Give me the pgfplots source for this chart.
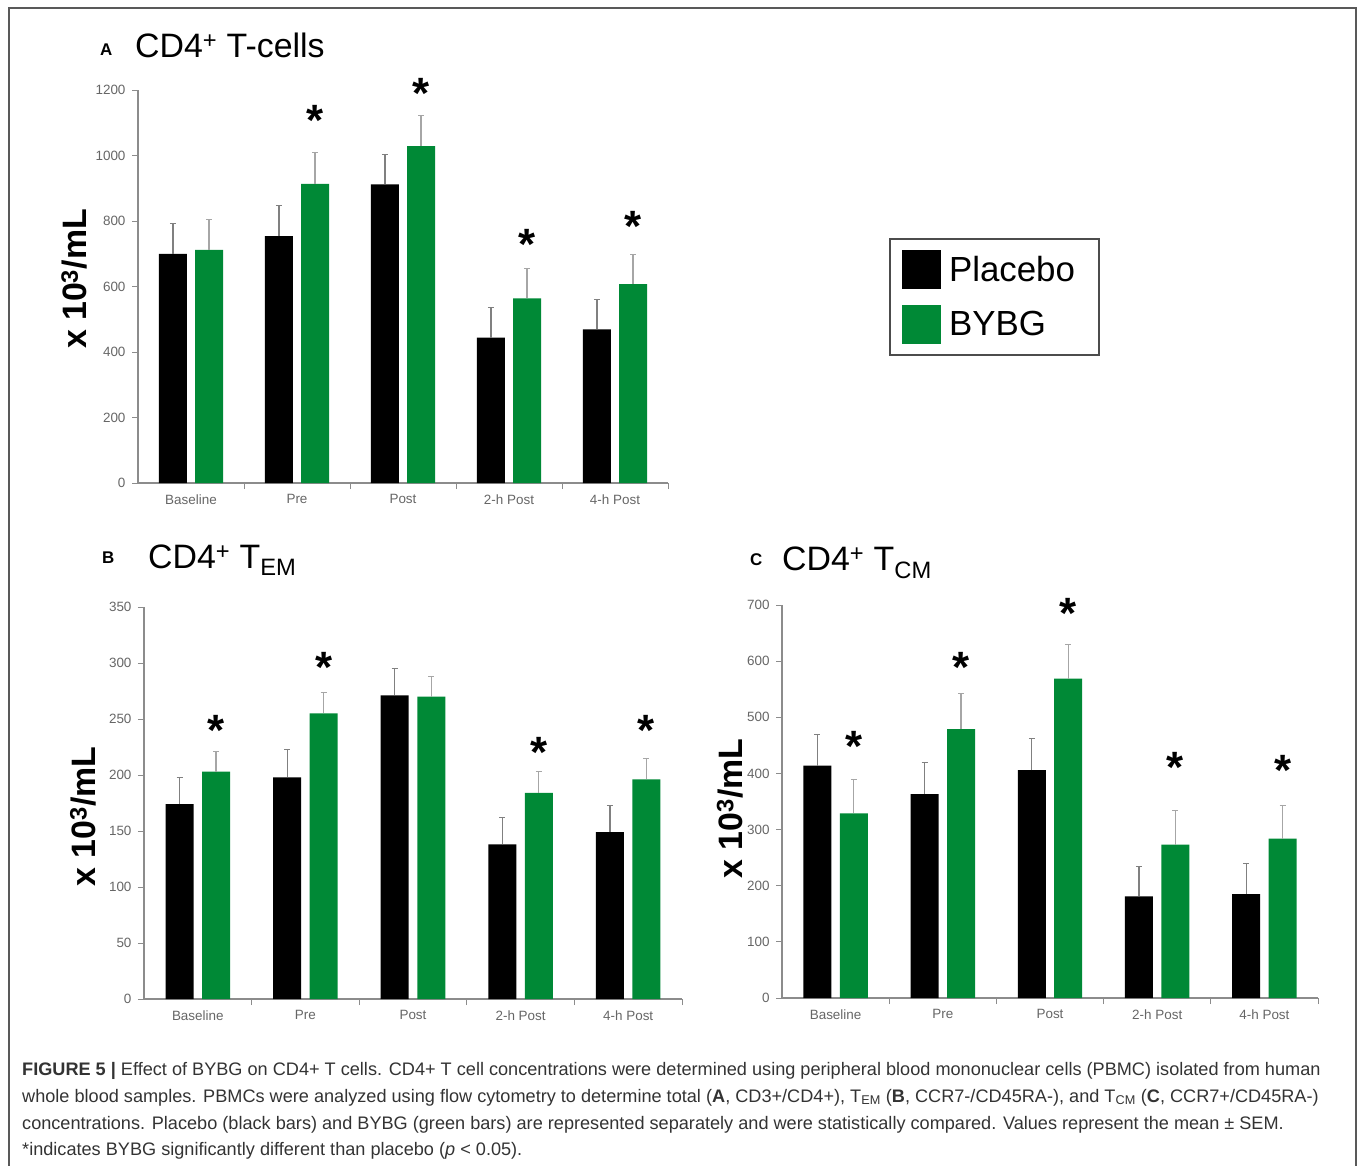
\documentclass[border=0pt]{standalone}
\usepackage{fontspec}
\setmainfont{Liberation Sans}
\usepackage{pgfplots}
\pgfplotsset{compat=1.18}

\definecolor{bybg}{RGB}{0,137,54}

\newcommand\tickfont{\fontsize{13.5}{14}\selectfont}
\newcommand\labfont{\bfseries\fontsize{34}{34}\selectfont}
\newcommand\titfont{\fontsize{34}{34}\selectfont}
\newcommand\letfont{\bfseries\fontsize{17}{17}\selectfont}
\newcommand\legfont{\fontsize{35}{35}\selectfont}
\newcommand\asty{\bfseries\fontsize{44}{44}\selectfont}
\newcommand\capfont{\fontsize{18.2}{20}\selectfont}

% bars sit at category -0.17 (placebo) and +0.17 (BYBG)
\pgfplotsset{
  panel/.style={
    scale only axis, anchor=south west, clip=false,
    axis x line*=bottom, axis y line*=left,
    axis line style={black!45, line width=1.2bp},
    xmin=-0.5, xmax=4.5, ymin=0,
    xtick={0,...,4},
    xticklabels={Baseline,Pre,Post,2-h Post,4-h Post},
    minor xtick={0.5,1.5,2.5,3.5,4.5},
    major x tick style={draw=none},
    tick align=outside,
    major tick length=6bp, minor tick length=6bp,
    tick style={black!45, line width=1bp},
    ticklabel style={font=\tickfont, text=black!60},
    yticklabel style={xshift=-3bp},
    xticklabel style={yshift=-2bp},
    /pgf/number format/assume math mode=true,
    /pgf/number format/1000 sep={},
    ylabel={x 10\textsuperscript{3}/mL},
    ylabel style={font=\labfont},
  },
  placebo/.style={ybar, bar width=28bp, bar shift=0bp, fill=black, draw=none,
    error bars/y dir=plus, error bars/y explicit,
    error bars/error bar style={black!50, line width=1.2bp},
    error bars/error mark options={rotate=90, black!50, mark size=3bp, line width=1bp}},
  bybg/.style={ybar, bar width=28bp, bar shift=0bp, fill=bybg, draw=none,
    error bars/y dir=plus, error bars/y explicit,
    error bars/error bar style={black!35, line width=1.2bp},
    error bars/error mark options={rotate=90, black!35, mark size=3bp, line width=1bp}},
  star/.style={only marks, mark=text, text mark={\asty *}, text mark as node=true,
    text mark style={anchor=base, yshift=-19bp, inner sep=0pt}},
}

\begin{document}
\begin{tikzpicture}
\path[use as bounding box] (0bp,0bp) rectangle (1360bp,-1166bp);
\draw[black!65, line width=2bp] (9bp,-1170bp) -- (9bp,-8bp) -- (1356bp,-8bp) -- (1356bp,-1170bp);

% panel A
\node[anchor=base west, inner sep=0pt] at (100bp,-55bp) {\letfont A};
\node[anchor=base west, inner sep=0pt] at (135bp,-57bp) {\titfont CD4\textsuperscript{+} T-cells};
\begin{axis}[panel, at={(138bp,-483bp)}, width=530bp, height=393bp,
  ymax=1200, ytick={0,200,...,1200},
  ylabel style={at={(axis description cs:-0.120,0.519)}, anchor=center}]
\addplot[placebo] coordinates {(-0.17,700) +- (0,93) (0.83,754) +- (0,92) (1.83,912) +- (0,92) (2.83,444) +- (0,93) (3.83,469) +- (0,90)};
\addplot[bybg] coordinates {(0.17,712) +- (0,94) (1.17,913) +- (0,95) (2.17,1029) +- (0,94) (3.17,564) +- (0,92) (4.17,607) +- (0,92)};
\addplot[star] coordinates {(1.17,1118) (2.17,1202) (3.17,740) (4.17,795)};
\end{axis}

% legend
\begin{axis}[hide axis, scale only axis, width=10bp, height=10bp,
  xmin=0, xmax=1, ymin=0, ymax=1, at={(889bp,-238bp)}, anchor=north west,
  legend style={at={(0,1)}, anchor=north west, draw=black!70, line width=2bp,
    fill=white, inner xsep=12bp, inner ysep=11bp, row sep=16bp, column sep=8bp,
    font=\legfont, nodes={inner sep=0pt}},
  legend cell align=left]
\addlegendimage{legend image code/.code={\fill[black] (0bp,-18.5bp) rectangle (37bp,18.5bp);}}
\addlegendentry{Placebo\hspace*{12bp}}
\addlegendimage{legend image code/.code={\fill[bybg] (0bp,-18.5bp) rectangle (37bp,18.5bp);}}
\addlegendentry{BYBG}
\end{axis}

% panel B
\node[anchor=base west, inner sep=0pt] at (102bp,-563bp) {\letfont B};
\node[anchor=base west, inner sep=0pt] at (148bp,-568bp) {\titfont CD4\textsuperscript{+} T\textsubscript{EM}};
\begin{axis}[panel, at={(144bp,-999bp)}, width=538bp, height=392bp,
  ymax=350, ytick={0,50,...,350},
  ylabel style={at={(axis description cs:-0.113,0.466)}, anchor=center}]
\addplot[placebo] coordinates {(-0.17,174) +- (0,24) (0.83,198) +- (0,25) (1.83,271) +- (0,24) (2.83,138) +- (0,24) (3.83,149) +- (0,24)};
\addplot[bybg] coordinates {(0.17,203) +- (0,18) (1.17,255) +- (0,19) (2.17,270) +- (0,18) (3.17,184) +- (0,19) (4.17,196) +- (0,19)};
\addplot[star] coordinates {(0.17,243) (1.17,300) (3.17,224) (4.17,243)};
\end{axis}

% panel C
\node[anchor=base west, inner sep=0pt] at (750bp,-565bp) {\letfont C};
\node[anchor=base west, inner sep=0pt] at (782bp,-570bp) {\titfont CD4\textsuperscript{+} T\textsubscript{CM}};
\begin{axis}[panel, at={(782bp,-998bp)}, width=536bp, height=393bp,
  ymax=700, ytick={0,100,...,700},
  ylabel style={at={(axis description cs:-0.097,0.482)}, anchor=center}]
\addplot[placebo] coordinates {(-0.17,414) +- (0,55) (0.83,363) +- (0,56) (1.83,406) +- (0,56) (2.83,181) +- (0,53) (3.83,185) +- (0,54)};
\addplot[bybg] coordinates {(0.17,329) +- (0,61) (1.17,479) +- (0,63) (2.17,569) +- (0,61) (3.17,273) +- (0,61) (4.17,284) +- (0,59)};
\addplot[star] coordinates {(0.17,455) (1.17,596) (2.17,692) (3.17,417) (4.17,413)};
\end{axis}

% caption
\begin{scope}[every node/.style={anchor=base west, inner sep=0pt, text=black!80, font=\capfont}]
\node at (22bp,-1075bp) {\textbf{FIGURE 5 |} Effect of BYBG on CD4+ T cells. CD4+ T cell concentrations were determined using peripheral blood mononuclear cells (PBMC) isolated from human};
\node at (22bp,-1102bp) {whole blood samples. PBMCs were analyzed using flow cytometry to determine total (\textbf{A}, CD3+/CD4+), T\textsubscript{EM} (\textbf{B}, CCR7-/CD45RA-), and T\textsubscript{CM} (\textbf{C}, CCR7+/CD45RA-)};
\node at (22bp,-1129bp) {concentrations. Placebo (black bars) and BYBG (green bars) are represented separately and were statistically compared. Values represent the mean ± SEM.};
\node at (22bp,-1155bp) {*indicates BYBG significantly different than placebo (\textit{p} < 0.05).};
\end{scope}
\end{tikzpicture}
\end{document}
